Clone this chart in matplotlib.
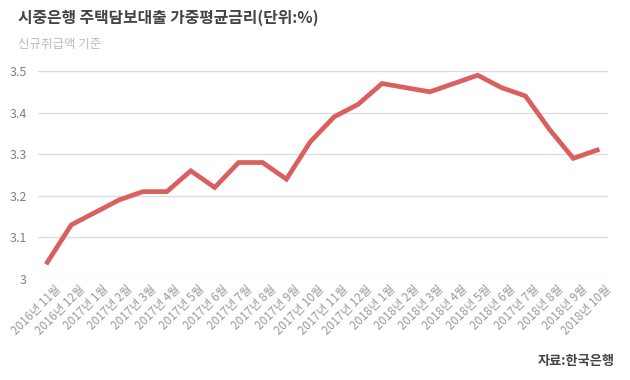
import matplotlib
matplotlib.use("Agg")
import matplotlib.pyplot as plt
import matplotlib.transforms as mtransforms

plt.rcParams["font.family"] = ["Noto Sans CJK KR", "DejaVu Sans"]

months = [
    "2016년 11월", "2016년 12월",
    "2017년 1월", "2017년 2월", "2017년 3월", "2017년 4월", "2017년 5월",
    "2017년 6월", "2017년 7월", "2017년 8월", "2017년 9월", "2017년 10월",
    "2017년 11월", "2017년 12월",
    "2018년 1월", "2018년 2월", "2018년 3월", "2018년 4월", "2018년 5월",
    "2018년 6월", "2017년 7월", "2018년 8월", "2018년 9월", "2018년 10월",
]
rates = [
    3.04, 3.13, 3.16, 3.19, 3.21, 3.21, 3.26, 3.22, 3.28, 3.28, 3.24, 3.33,
    3.39, 3.42, 3.47, 3.46, 3.45, 3.47, 3.49, 3.46, 3.44, 3.36, 3.29, 3.31,
]
yticks = [3.0, 3.1, 3.2, 3.3, 3.4, 3.5]
ytick_labels = ["3", "3.1", "3.2", "3.3", "3.4", "3.5"]

fig = plt.figure(figsize=(6.3, 3.8), dpi=100)
ax = fig.add_axes([0.060, 0.266, 0.905, 0.547])

x = list(range(len(months)))
ax.plot(x, rates, color="#d9605e", linewidth=3.4, solid_joinstyle="miter", zorder=3)

ax.set_xlim(-0.4, 23.45)
ax.set_ylim(3.0, 3.5)
ax.set_yticks(yticks)
ax.set_yticklabels(ytick_labels, color="#808080", fontsize=9)
ax.set_xticks(x)
ax.set_xticklabels(months, rotation=45, ha="right", rotation_mode="anchor",
                   color="#999999", fontsize=8.5)
ax.tick_params(axis="both", length=0)
ax.tick_params(axis="y", pad=8)
ax.tick_params(axis="x", pad=3)

# nudge the rotated labels a little to the right, as in the original
offset = mtransforms.ScaledTranslation(5 / 72, 0, fig.dpi_scale_trans)
for lbl in ax.get_xticklabels():
    lbl.set_transform(lbl.get_transform() + offset)

ax.grid(axis="y", color="#dddddd", linewidth=1)
for s in ax.spines.values():
    s.set_visible(False)

fig.text(0.029, 0.952, "시중은행 주택담보대출 가중평균금리(단위:%)",
         fontsize=11.4, fontweight="bold", color="#444444", va="center")
fig.text(0.029, 0.884, "신규취급액 기준", fontsize=9, color="#bbbbbb", va="center")
fig.text(0.975, 0.05, "자료:한국은행", fontsize=9.5, fontweight="bold",
         color="#444444", ha="right", va="center")

fig.savefig("out.png", dpi=100)
